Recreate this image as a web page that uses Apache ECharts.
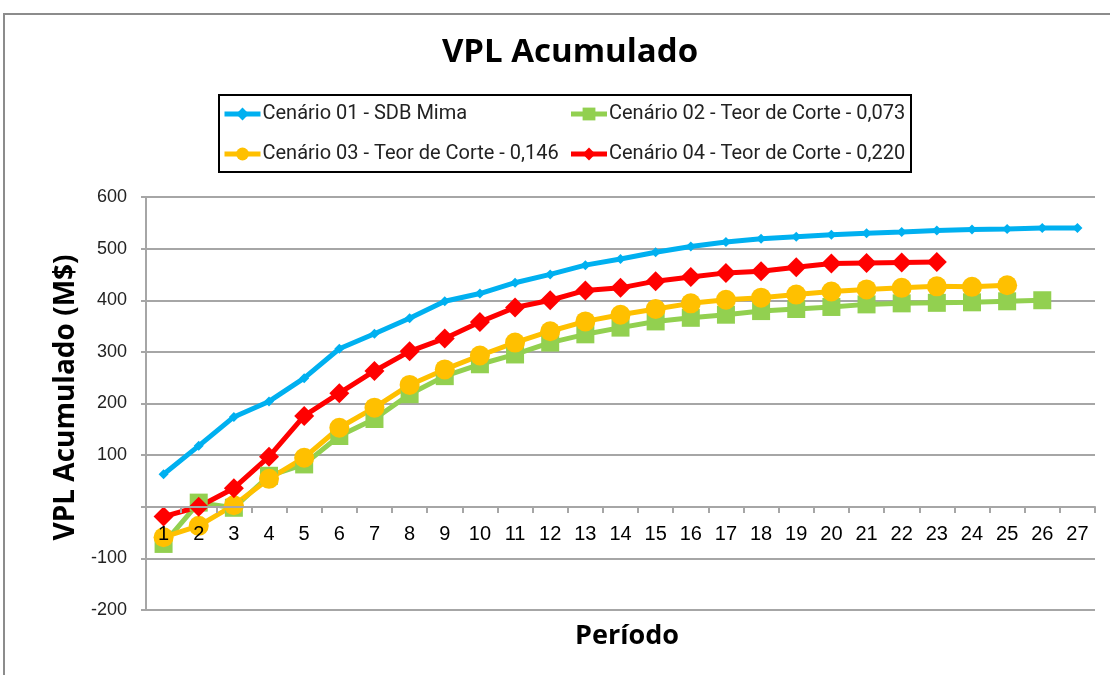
<!DOCTYPE html>
<html>
<head>
<meta charset="utf-8">
<title>VPL Acumulado</title>
<script src="https://cdn.jsdelivr.net/npm/echarts@6/dist/echarts.min.js"></script>
<style>
  html, body { margin: 0; padding: 0; background: #fff; }
  #chart { width: 1110px; height: 675px; }
</style>
</head>
<body>
<div id="chart"></div>
<script>
// periodos 1..27
const periodos = ["1","2","3","4","5","6","7","8","9","10","11","12","13","14","15","16","17","18","19","20","21","22","23","24","25","26","27"];

const cenario01 = [63, 118, 174, 204, 249, 306, 335, 365, 398, 413, 434, 450, 468, 480, 493, 504, 513, 519, 523, 527, 530, 532, 535, 537, 538, 540, 540];
const cenario02 = [-72, 8, -2, 60, 82, 137, 170, 218, 253, 276, 295, 318, 334, 347, 359, 366, 372, 379, 383, 387, 392, 394, 395, 396, 398, 400];
const cenario03 = [-59, -37, 3, 54, 95, 153, 192, 236, 266, 293, 318, 340, 359, 372, 383, 394, 401, 405, 411, 417, 421, 424, 427, 426, 429];
const cenario04 = [-19, 0, 36, 97, 176, 220, 263, 301, 326, 358, 386, 400, 419, 424, 437, 445, 453, 456, 464, 471, 472, 473, 474];

const nomes = [
  "Cenário 01 - SDB Mima",
  "Cenário 02 - Teor de Corte - 0,073",
  "Cenário 03 - Teor de Corte - 0,146",
  "Cenário 04 - Teor de Corte - 0,220"
];

const fonteLegenda = "Roboto, 'Liberation Sans', sans-serif";
const fonteBold = "'Open Sans', Lato, sans-serif";
const fonteEixo = "'Liberation Sans', Arial, sans-serif";
const cinza = "#a6a6a6";

const chart = echarts.init(document.getElementById("chart"));

function serie(name, data, color, symbol, size, width) {
  return {
    name,
    type: "line",
    data,
    color,
    symbol,
    symbolSize: size,
    showAllSymbol: true,
    lineStyle: { width, color },
    itemStyle: { color },
    animation: false
  };
}

chart.setOption({
  backgroundColor: "#fff",
  title: [
    {
      text: "VPL Acumulado",
      left: 565,
      top: 31,
      textAlign: "center",
      textStyle: { fontFamily: fonteBold, fontWeight: "bold", fontSize: 33, color: "#000" }
    },
    {
      text: "Período",
      left: 622,
      top: 618,
      textAlign: "center",
      textStyle: { fontFamily: fonteBold, fontWeight: "bold", fontSize: 27, color: "#000" }
    }
  ],
  graphic: [
    {
      type: "rect",
      shape: { x: 4, y: 14, width: 1200, height: 700 },
      style: { fill: null, stroke: "#8c8c8c", lineWidth: 2 },
      silent: true
    }
  ],
  legend: {
    left: 219,
    top: 95,
    width: 700,
    padding: [3, 4, 2, 3],
    itemGap: 8,
    itemWidth: 36,
    itemHeight: 16,
    borderColor: "#000",
    borderWidth: 2,
    lineStyle: { width: 5 },
    data: nomes,
    textStyle: {
      fontFamily: fonteLegenda,
      fontSize: 20,
      color: "#222",
      width: 298,
      lineHeight: 32,
      padding: [0, 0, 0, -3]
    }
  },
  grid: {
    left: 146,
    right: 15,
    top: 197,
    bottom: 65
  },
  xAxis: {
    type: "category",
    data: periodos,
    boundaryGap: true,
    offset: -103,
    zlevel: 1,
    axisLine: { onZero: false, lineStyle: { color: cinza, width: 2 } },
    axisTick: { show: true, length: 6, lineStyle: { color: cinza, width: 2 } },
    axisLabel: { margin: 17, fontFamily: fonteEixo, fontSize: 20, color: "#000" }
  },
  yAxis: {
    type: "value",
    min: -200,
    max: 600,
    interval: 100,
    name: "VPL Acumulado (M$)",
    nameLocation: "middle",
    nameGap: 54,
    nameRotate: 90,
    nameTextStyle: { fontFamily: fonteBold, fontWeight: "bold", fontSize: 28, color: "#000", padding: [0, 0, 0, 12] },
    axisLine: { show: true, lineStyle: { color: cinza, width: 2 } },
    axisTick: { show: true, length: 5, lineStyle: { color: cinza, width: 2 } },
    splitLine: { lineStyle: { color: cinza, width: 2 } },
    axisLabel: {
      margin: 19,
      fontFamily: fonteEixo,
      fontSize: 18,
      color: "#222",
      formatter(val) {
        return val === 0 ? "" : String(val);
      }
    }
  },
  series: [
    serie(nomes[0], cenario01, "#00B0F0", "diamond", 10, 5),
    serie(nomes[1], cenario02, "#92D050", "rect", 18, 5),
    serie(nomes[2], cenario03, "#FFC000", "circle", 20, 5),
    serie(nomes[3], cenario04, "#FF0000", "diamond", 20, 5)
  ]
});
</script>
</body>
</html>
